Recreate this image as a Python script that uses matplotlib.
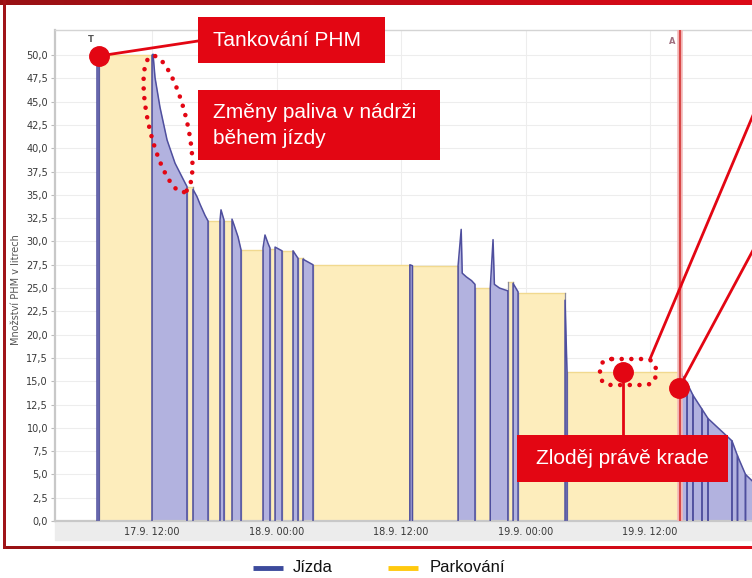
import numpy as np
import matplotlib
matplotlib.use("Agg")
import matplotlib.pyplot as plt
from matplotlib.patches import Rectangle, FancyBboxPatch
from matplotlib.colors import LinearSegmentedColormap

# ---------------- data (hours since 17.9. 00:00, litres) ----------------
seg_type = ['J', 'P', 'J', 'P', 'J', 'P', 'J', 'P', 'J', 'P', 'J', 'P', 'J', 'P',
            'J', 'P', 'J', 'P', 'J', 'P', 'J', 'P', 'J', 'P', 'J', 'P', 'J', 'P',
            'J', 'J', 'J', 'J', 'J', 'J', 'J', 'J']
seg_hours = [
    [6.70, 6.89],
    [6.89, 12.00],
    [12.00, 12.10, 12.29, 12.77, 13.45, 14.22, 15.18, 15.37],
    [15.37, 15.95],
    [15.95, 16.34, 16.63, 17.11, 17.40],
    [17.40, 18.55],
    [18.55, 18.65, 18.94],
    [18.94, 19.71],
    [19.71, 19.90, 20.29, 20.58],
    [20.58, 22.70],
    [22.70, 22.89, 23.18, 23.37],
    [23.37, 23.86],
    [23.86, 24.53],
    [24.53, 25.59],
    [25.59, 26.07],
    [26.07, 26.55],
    [26.55, 27.52],
    [27.52, 36.85],
    [36.85, 37.10],
    [37.10, 41.50],
    [41.50, 41.80, 41.90, 42.30, 42.80, 43.13],
    [43.13, 44.60],
    [44.60, 44.87, 45.00, 45.50, 46.30],
    [46.30, 46.80],
    [46.80, 47.28],
    [47.28, 51.81],
    [51.81, 52.00],
    [52.00, 62.89],
    [62.89, 63.10, 63.57],
    [63.57, 64.14],
    [64.14, 65.01],
    [65.01, 65.59],
    [65.59, 67.90],
    [67.90, 68.43],
    [68.43, 69.20],
    [69.20, 70.60],
]
seg_fuel = [
    [50.0, 50.0],
    [50.0, 50.0],
    [50.0, 50.1, 47.6, 44.4, 40.9, 38.4, 36.3, 35.9],
    [35.8, 35.8],
    [35.6, 34.8, 34.0, 32.8, 32.2],
    [32.2, 32.2],
    [32.2, 33.4, 32.3],
    [32.2, 32.2],
    [32.4, 31.8, 30.5, 29.1],
    [29.1, 29.1],
    [29.3, 30.7, 29.8, 29.3],
    [29.2, 29.2],
    [29.4, 29.0],
    [29.0, 29.0],
    [29.0, 28.2],
    [28.2, 28.2],
    [28.1, 27.5],
    [27.5, 27.5],
    [27.5, 27.4],
    [27.4, 27.4],
    [27.4, 31.3, 26.6, 26.2, 25.8, 25.4],
    [25.0, 25.0],
    [25.0, 30.2, 25.4, 25.0, 24.7],
    [25.6, 25.6],
    [25.5, 24.6],
    [24.5, 24.5],
    [23.7, 16.0],
    [16.0, 16.0],
    [16.4, 15.6, 14.8],
    [14.8, 13.5],
    [13.5, 12.0],
    [12.0, 11.0],
    [11.0, 8.6],
    [8.6, 7.0],
    [7.0, 5.0],
    [5.0, 3.5],
]
x_tick_hours = [12, 24, 36, 48, 60]
x_tick_labels = ['17.9. 12:00', '18.9. 00:00', '18.9. 12:00', '19.9. 00:00', '19.9. 12:00']
y_ticks = [0.0, 2.5, 5.0, 7.5, 10.0, 12.5, 15.0, 17.5, 20.0, 22.5, 25.0,
           27.5, 30.0, 32.5, 35.0, 37.5, 40.0, 42.5, 45.0, 47.5, 50.0]
refuel_hour = 6.1      # "T" marker
alarm_hour = 62.9      # "A" marker (red line)
legend_labels = ['Jízda', 'Parkování']

# ---------------- style ----------------
W, H = 752, 578
fig = plt.figure(figsize=(W / 100, H / 100), dpi=100)
fig.patch.set_facecolor('white')

drive_fill = '#b2b2df'
drive_edge = '#4f4f9e'
park_fill = '#fdedbc'
park_top = '#f1d98f'
park_side = '#8c8c9c'

ax_left, ax_right, ax_top, ax_bottom = 55, 760, 30, 521
ax = fig.add_axes([ax_left / W, (H - ax_bottom) / H,
                   (ax_right - ax_left) / W, (ax_bottom - ax_top) / H])
ax.set_xlim(2.65, 70.6)
ax.set_ylim(0, 52.7)

for kind, t, f in zip(seg_type, seg_hours, seg_fuel):
    t = np.asarray(t)
    f = np.asarray(f)
    if kind == 'P':
        ax.fill_between(t, 0, f, color=park_fill, lw=0, zorder=2)
        ax.plot(t, f, color=park_top, lw=1.0, zorder=2.2)
        ax.plot([t[0], t[0]], [0, f[0]], color=park_side, lw=0.9, zorder=2.3)
        ax.plot([t[-1], t[-1]], [0, f[-1]], color=park_side, lw=0.9, zorder=2.3)
    else:
        ax.fill_between(t, 0, f, color=drive_fill, lw=0, zorder=2.5)
        ax.plot(np.r_[t[0], t, t[-1]], np.r_[0, f, 0], color=drive_edge,
                lw=1.1, zorder=3)

ax.axvline(alarm_hour, color='#f3b8b8', lw=4.0, zorder=4)
ax.axvline(alarm_hour, color='#d94848', lw=1.5, zorder=4.1)

ax.text(refuel_hour, 51.7, 'T', fontsize=6, color='#555555', ha='center',
        va='center', fontweight='bold', zorder=5)
ax.text(alarm_hour - 0.75, 51.5, 'A', fontsize=6, color='#a07080', ha='center',
        va='center', fontweight='bold', zorder=5)

ax.set_yticks(y_ticks)
ax.set_yticklabels([f"{v:.1f}".replace('.', ',') for v in y_ticks])
ax.set_xticks(x_tick_hours)
ax.set_xticklabels(x_tick_labels)
ax.tick_params(axis='y', labelsize=7, labelcolor='#383838', color='#bbbbbb',
               length=3, pad=2)
ax.tick_params(axis='x', labelsize=7, labelcolor='#383838', length=0, pad=4)
ax.grid(True, color='#ededed', lw=0.8)
ax.set_axisbelow(True)
ax.spines['right'].set_visible(False)
ax.spines['left'].set_color('#c8c8c8')
ax.spines['left'].set_linewidth(1.6)
ax.spines['bottom'].set_color('#c8c8c8')
ax.spines['bottom'].set_linewidth(1.6)
ax.spines['top'].set_color('#d4d4d4')
ax.spines['top'].set_linewidth(1.0)
ax.set_ylabel('Množství PHM v litrech', fontsize=7, color='#555555')
ax.yaxis.set_label_coords((21 - ax_left) / (ax_right - ax_left),
                          (ax_bottom - 290) / (ax_bottom - ax_top))

# light band under x axis
fig.patches.append(Rectangle((ax_left / W, (H - 540) / H), 1.0, 18 / H,
                             transform=fig.transFigure, color='#ececec',
                             zorder=-1))

# ---------------- overlay (pixel coordinates) ----------------
ov = fig.add_axes([0, 0, 1, 1], zorder=10)
ov.axis('off')
ov.patch.set_alpha(0)

red = '#e30613'
cmap = LinearSegmentedColormap.from_list('fr', ['#981214', '#c00c16', '#dc0a18'])
grad = np.linspace(0, 1, 256)[None, :]
ov.imshow(grad, cmap=cmap, extent=[0, W, 5, 0], aspect='auto', zorder=1)
ov.imshow(grad, cmap=cmap, extent=[3, W, 549, 546], aspect='auto', zorder=1)
ov.add_patch(Rectangle((3, 0), 3, 549, color='#a01418', lw=0, zorder=1))
ov.set_xlim(0, W)
ov.set_ylim(H, 0)

tfont = dict(family=['Liberation Sans', 'DejaVu Sans'], color='white', fontsize=15)

# Tankování PHM
ov.add_patch(Rectangle((198, 17), 187, 46, color=red, lw=0, zorder=5))
ov.text(213, 40.5, 'Tankování PHM', ha='left', va='center', zorder=6, **tfont)
ov.plot([99, 198], [56, 41], color=red, lw=2, zorder=5)
ov.plot([99], [56], 'o', ms=14, color=red, zorder=6)

# Změny paliva v nádrži během jízdy
ov.add_patch(Rectangle((198, 90), 242, 70, color=red, lw=0, zorder=5))
ov.text(213, 113, 'Změny paliva v nádrži', ha='left', va='center', zorder=6, **tfont)
ov.text(213, 139, 'během jízdy', ha='left', va='center', zorder=6, **tfont)

# dotted ellipse around the fuel curve
th = np.linspace(0, 2 * np.pi, 200)
cx, cy, a, b = 168, 124, 70, 19
cphi, sphi = 0.229, 0.973
ex = cx + a * np.cos(th) * cphi - b * np.sin(th) * sphi
ey = cy + a * np.cos(th) * sphi + b * np.sin(th) * cphi
ov.plot(ex, ey, color=red, lw=3.3, ls=(0, (0.01, 2.1)),
        dash_capstyle='round', zorder=6)

# Zloděj právě krade
ov.add_patch(Rectangle((517, 435), 211, 47, color=red, lw=0, zorder=5))
ov.text(622.5, 458.5, 'Zloděj právě krade', ha='center', va='center', zorder=6, **tfont)
ov.plot([623, 623], [372, 435], color=red, lw=2, zorder=5)
ov.plot([623], [372], 'o', ms=14, color=red, zorder=6)

rb = FancyBboxPatch((600, 359), 56, 26, boxstyle='round,pad=0,rounding_size=12',
                    fill=False, edgecolor=red, lw=3.3, ls=(0, (0.01, 2.1)),
                    capstyle='round', zorder=6)
ov.add_patch(rb)
ov.plot([650, 770], [359, 75], color=red, lw=2, zorder=5)
ov.plot([679, 780], [388, 200], color=red, lw=2, zorder=5)
ov.plot([679], [388], 'o', ms=14, color=red, zorder=6)

# legend
ov.plot([253, 283], [568, 568], color='#3c4a9c', lw=3.5, solid_capstyle='butt')
ov.text(293, 568, legend_labels[0], ha='left', va='center', fontsize=12,
        family=['Liberation Sans', 'DejaVu Sans'], color='#111111')
ov.plot([388, 418], [568, 568], color='#ffc90e', lw=3.5, solid_capstyle='butt')
ov.text(430, 568, legend_labels[1], ha='left', va='center', fontsize=12,
        family=['Liberation Sans', 'DejaVu Sans'], color='#111111')
ov.set_xlim(0, W)
ov.set_ylim(H, 0)

fig.savefig('out.png', dpi=100)
